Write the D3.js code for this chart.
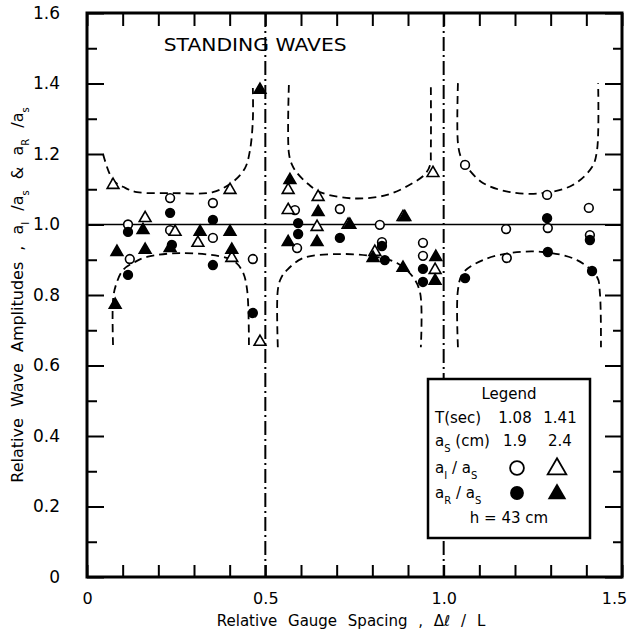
<!DOCTYPE html>
<html>
<head>
<meta charset="utf-8">
<script src="https://cdn.jsdelivr.net/npm/d3@7/dist/d3.min.js"></script>
<style>
body { margin: 0; background: #fff; }
text { font-family: "DejaVu Sans", sans-serif; fill: #000; }
</style>
</head>
<body>
<div id="my_dataviz"></div>
<script>
// values: [relative gauge spacing, amplitude ratio]
// T = 1.08 s, incident (open circles)
var incident108 = [[0.115,1.00],[0.12,0.902],[0.233,1.075],[0.233,0.984],[0.353,1.061],[0.353,0.962],[0.465,0.902],
  [0.583,1.041],[0.589,0.933],[0.709,1.044],[0.821,0.999],[0.827,0.95],[0.942,0.948],[0.942,0.911],
  [1.06,1.169],[1.175,0.987],[1.177,0.905],[1.29,1.084],[1.292,0.99],[1.407,1.047],[1.41,0.97]];
// T = 1.08 s, reflected (filled circles)
var reflected108 = [[0.115,0.979],[0.115,0.857],[0.233,1.033],[0.238,0.942],[0.353,1.013],[0.353,0.885],[0.465,0.749],
  [0.592,1.004],[0.592,0.973],[0.709,0.962],[0.827,0.939],[0.835,0.899],[0.942,0.874],[0.942,0.837],
  [1.06,0.848],[1.29,1.018],[1.292,0.922],[1.41,0.956],[1.416,0.868]];
// T = 1.41 s, incident (open triangles)
var incident141 = [[0.073,1.112],[0.163,1.018],[0.247,0.979],[0.311,0.948],[0.401,1.098],[0.406,0.905],[0.485,0.667],
  [0.564,1.098],[0.564,1.041],[0.648,1.078],[0.645,0.993],[0.732,0.999],[0.807,0.922],[0.886,1.021],[0.97,1.146],[0.976,0.871]];
// T = 1.41 s, reflected (filled triangles)
var reflected141 = [[0.084,0.922],[0.079,0.772],[0.157,0.984],[0.163,0.928],[0.233,0.933],[0.317,0.979],[0.401,0.979],[0.406,0.928],[0.485,1.382],
  [0.569,1.126],[0.648,1.035],[0.564,0.95],[0.645,0.95],[0.737,0.999],[0.802,0.905],[0.886,0.877],[0.891,1.021],[0.978,0.908],[0.976,0.84]];

// dashed envelope curves
var upper1 = [[0.045,1.2],[0.073,1.126],[0.107,1.104],[0.14,1.092],[0.241,1.089],[0.353,1.092],[0.409,1.121],[0.443,1.16],[0.457,1.211],[0.465,1.296],[0.465,1.387]];
var lower1 = [[0.073,0.658],[0.073,0.786],[0.081,0.828],[0.101,0.871],[0.135,0.894],[0.168,0.908],[0.261,0.919],[0.381,0.908],[0.415,0.894],[0.437,0.865],[0.449,0.814],[0.454,0.658]];
var upper2 = [[0.566,1.396],[0.566,1.203],[0.575,1.169],[0.589,1.146],[0.62,1.115],[0.653,1.092],[0.746,1.074],[0.841,1.084],[0.914,1.118],[0.948,1.143],[0.962,1.169],[0.964,1.211],[0.964,1.401]];
var lower2 = [[0.535,0.652],[0.535,0.814],[0.544,0.848],[0.561,0.871],[0.606,0.905],[0.701,0.916],[0.793,0.911],[0.869,0.891],[0.914,0.851],[0.934,0.806],[0.936,0.652]];
var upper3 = [[1.04,1.401],[1.04,1.231],[1.049,1.189],[1.065,1.163],[1.11,1.118],[1.186,1.092],[1.278,1.089],[1.362,1.112],[1.416,1.163],[1.43,1.211],[1.433,1.401]];
var lower3 = [[1.04,0.652],[1.04,0.814],[1.054,0.862],[1.11,0.899],[1.186,0.919],[1.278,0.922],[1.374,0.899],[1.43,0.851],[1.438,0.806],[1.441,0.652]];

var nodeLines = [0.5, 1.0];
var refLevel = 1.0;

// ticks
var xMinor = [0,0.1,0.2,0.3,0.4,0.5,0.6,0.7,0.8,0.9,1.0,1.1,1.2,1.3,1.4,1.5];
var xLabelValues = [0, 0.5, 1.0, 1.5];
var xTickLabels = ["0", "0.5", "1.0", "1.5"];
var yMajor = [0,0.2,0.4,0.6,0.8,1.0,1.2,1.4,1.6];
var yMinor = [0.1,0.3,0.5,0.7,0.9,1.1,1.3,1.5];
var yTickLabels = ["0", "0.2", "0.4", "0.6", "0.8", "1.0", "1.2", "1.4", "1.6"];

var margin = {top: 13, right: 8, bottom: 53, left: 87},
    width = 630 - margin.left - margin.right,
    height = 630 - margin.top - margin.bottom;

var root = d3.select("#my_dataviz")
    .append("svg")
    .attr("width", 630)
    .attr("height", 630);
var svg = root.append("g")
    .attr("transform", "translate(" + margin.left + "," + margin.top + ")");

var x = d3.scaleLinear().domain([0, 1.5]).range([0, width]);
var y = d3.scaleLinear().domain([0, 1.6]).range([height, 0]);

// tick marks, all pointing inward
function ticks(g) {
    g.select(".domain").remove();
    g.selectAll("line").attr("stroke", "#000").attr("stroke-width", 2);
}
svg.append("g").attr("transform", "translate(0," + height + ")")
    .call(d3.axisBottom(x).tickValues(xMinor).tickSize(-12).tickFormat("")).call(ticks);
svg.append("g")
    .call(d3.axisTop(x).tickValues(xMinor).tickSize(-13).tickFormat("")).call(ticks);
svg.append("g").call(d3.axisLeft(y).tickValues(yMajor).tickSize(-17).tickFormat("")).call(ticks);
svg.append("g").call(d3.axisLeft(y).tickValues(yMinor).tickSize(-10).tickFormat("")).call(ticks);
svg.append("g").attr("transform", "translate(" + width + ",0)")
    .call(d3.axisRight(y).tickValues(yMajor).tickSize(-17).tickFormat("")).call(ticks);
svg.append("g").attr("transform", "translate(" + width + ",0)")
    .call(d3.axisRight(y).tickValues(yMinor).tickSize(-9).tickFormat("")).call(ticks);

// tick labels
var xl = svg.append("g").attr("transform", "translate(0," + height + ")")
    .call(d3.axisBottom(x).tickValues(xLabelValues).tickSize(0).tickPadding(16)
        .tickFormat(function(d, i) { return xTickLabels[i]; }));
xl.select(".domain").remove();
xl.selectAll("text").style("font-size", "16px").style("font-family", "DejaVu Sans")
    .attr("dx", function(d, i) { return i == xTickLabels.length - 1 ? -8 : 0; });
var yl = svg.append("g")
    .call(d3.axisLeft(y).tickValues(yMajor).tickSize(0).tickPadding(27)
        .tickFormat(function(d, i) { return yTickLabels[i]; }));
yl.select(".domain").remove();
yl.selectAll("text").style("font-size", "17px").style("font-family", "DejaVu Sans");

// reference line at 1.0
svg.append("line")
    .attr("x1", 0).attr("x2", width)
    .attr("y1", y(refLevel)).attr("y2", y(refLevel))
    .attr("stroke", "#000").attr("stroke-width", 1.6);

// node lines (dash-dot)
svg.selectAll(".node")
    .data(nodeLines)
    .enter().append("line")
    .attr("x1", function(d) { return x(d); }).attr("x2", function(d) { return x(d); })
    .attr("y1", 0).attr("y2", height)
    .attr("stroke", "#000").attr("stroke-width", 2)
    .attr("stroke-dasharray", "14,4,2,4");

// envelopes
var line = d3.line()
    .x(function(d) { return x(d[0]); })
    .y(function(d) { return y(d[1]); })
    .curve(d3.curveCatmullRom.alpha(0.5));
svg.selectAll(".env")
    .data([upper1, lower1, upper2, lower2, upper3, lower3])
    .enter().append("path")
    .attr("d", line)
    .attr("fill", "none")
    .attr("stroke", "#000").attr("stroke-width", 1.8)
    .attr("stroke-dasharray", "8,5");

// points
var circ = d3.symbol().type(d3.symbolCircle).size(60);
var tri = d3.symbol().type(d3.symbolTriangle).size(60);
function plot(data, shape, filled) {
    svg.append("g").selectAll("path")
        .data(data)
        .enter().append("path")
        .attr("transform", function(d) { return "translate(" + x(d[0]) + "," + y(d[1]) + ")"; })
        .attr("d", shape)
        .attr("fill", filled ? "#000" : "#fff")
        .attr("stroke", "#000").attr("stroke-width", 1.6);
}
plot(incident108, circ, false);
plot(incident141, tri, false);
plot(reflected108, circ, true);
plot(reflected141, tri, true);

// frame
svg.append("rect")
    .attr("width", width).attr("height", height)
    .attr("fill", "none").attr("stroke", "#000").attr("stroke-width", 3);

svg.append("text")
    .attr("x", x(0.215)).attr("y", 38)
    .attr("textLength", 183).attr("lengthAdjust", "spacingAndGlyphs")
    .style("font-size", "17px")
    .text("STANDING WAVES");

// legend
var lg = svg.append("g").attr("transform", "translate(" + (428 - margin.left) + "," + (379 - margin.top) + ")");
lg.append("rect").attr("width", 162).attr("height", 159)
    .attr("fill", "#fff").attr("stroke", "#000").attr("stroke-width", 2.5);
function lt(tx, ty, anchor, str) {
    return lg.append("text").attr("x", tx).attr("y", ty).attr("text-anchor", anchor)
        .style("font-size", "15px").text(str);
}
lt(81, 20, "middle", "Legend");
lt(7, 44, "start", "T(sec)");
lt(87, 44, "middle", "1.08");
lt(132, 44, "middle", "1.41");
var t2 = lt(7, 67, "start", "a");
t2.append("tspan").attr("baseline-shift", "sub").style("font-size", "10px").text("S");
t2.append("tspan").text(" (cm)");
lt(87, 67, "middle", "1.9");
lt(132, 67, "middle", "2.4");
var t3 = lt(7, 94, "start", "a");
t3.append("tspan").attr("baseline-shift", "sub").style("font-size", "10px").text("I");
t3.append("tspan").text(" / a");
t3.append("tspan").attr("baseline-shift", "sub").style("font-size", "10px").text("S");
var t4 = lt(7, 119, "start", "a");
t4.append("tspan").attr("baseline-shift", "sub").style("font-size", "10px").text("R");
t4.append("tspan").text(" / a");
t4.append("tspan").attr("baseline-shift", "sub").style("font-size", "10px").text("S");
lt(81, 144, "middle", "h = 43 cm");
var bigCirc = d3.symbol().type(d3.symbolCircle).size(150);
var bigTri = d3.symbol().type(d3.symbolTriangle).size(150);
lg.append("path").attr("transform", "translate(89,89)").attr("d", bigCirc)
    .attr("fill", "#fff").attr("stroke", "#000").attr("stroke-width", 1.8);
lg.append("path").attr("transform", "translate(129,90)").attr("d", bigTri)
    .attr("fill", "#fff").attr("stroke", "#000").attr("stroke-width", 1.8);
lg.append("path").attr("transform", "translate(89,114)").attr("d", bigCirc).attr("fill", "#000");
lg.append("path").attr("transform", "translate(129,115)").attr("d", bigTri).attr("fill", "#000");

// axis titles
root.append("text")
    .attr("x", 351).attr("y", 626).attr("text-anchor", "middle")
    .style("font-size", "15px").style("word-spacing", "6px")
    .text("Relative Gauge Spacing ,   \u0394\u2113 / L");

var yt = root.append("text")
    .attr("transform", "translate(23,295) rotate(-90)")
    .attr("text-anchor", "middle")
    .style("font-size", "16px").style("word-spacing", "6px");
yt.append("tspan").text("Relative Wave Amplitudes ,  a");
yt.append("tspan").attr("baseline-shift", "sub").style("font-size", "10px").text("I");
yt.append("tspan").text(" /a");
yt.append("tspan").attr("baseline-shift", "sub").style("font-size", "10px").text("s");
yt.append("tspan").text("  &  a");
yt.append("tspan").attr("baseline-shift", "sub").style("font-size", "10px").text("R");
yt.append("tspan").text(" /a");
yt.append("tspan").attr("baseline-shift", "sub").style("font-size", "10px").text("s");
</script>
</body>
</html>
